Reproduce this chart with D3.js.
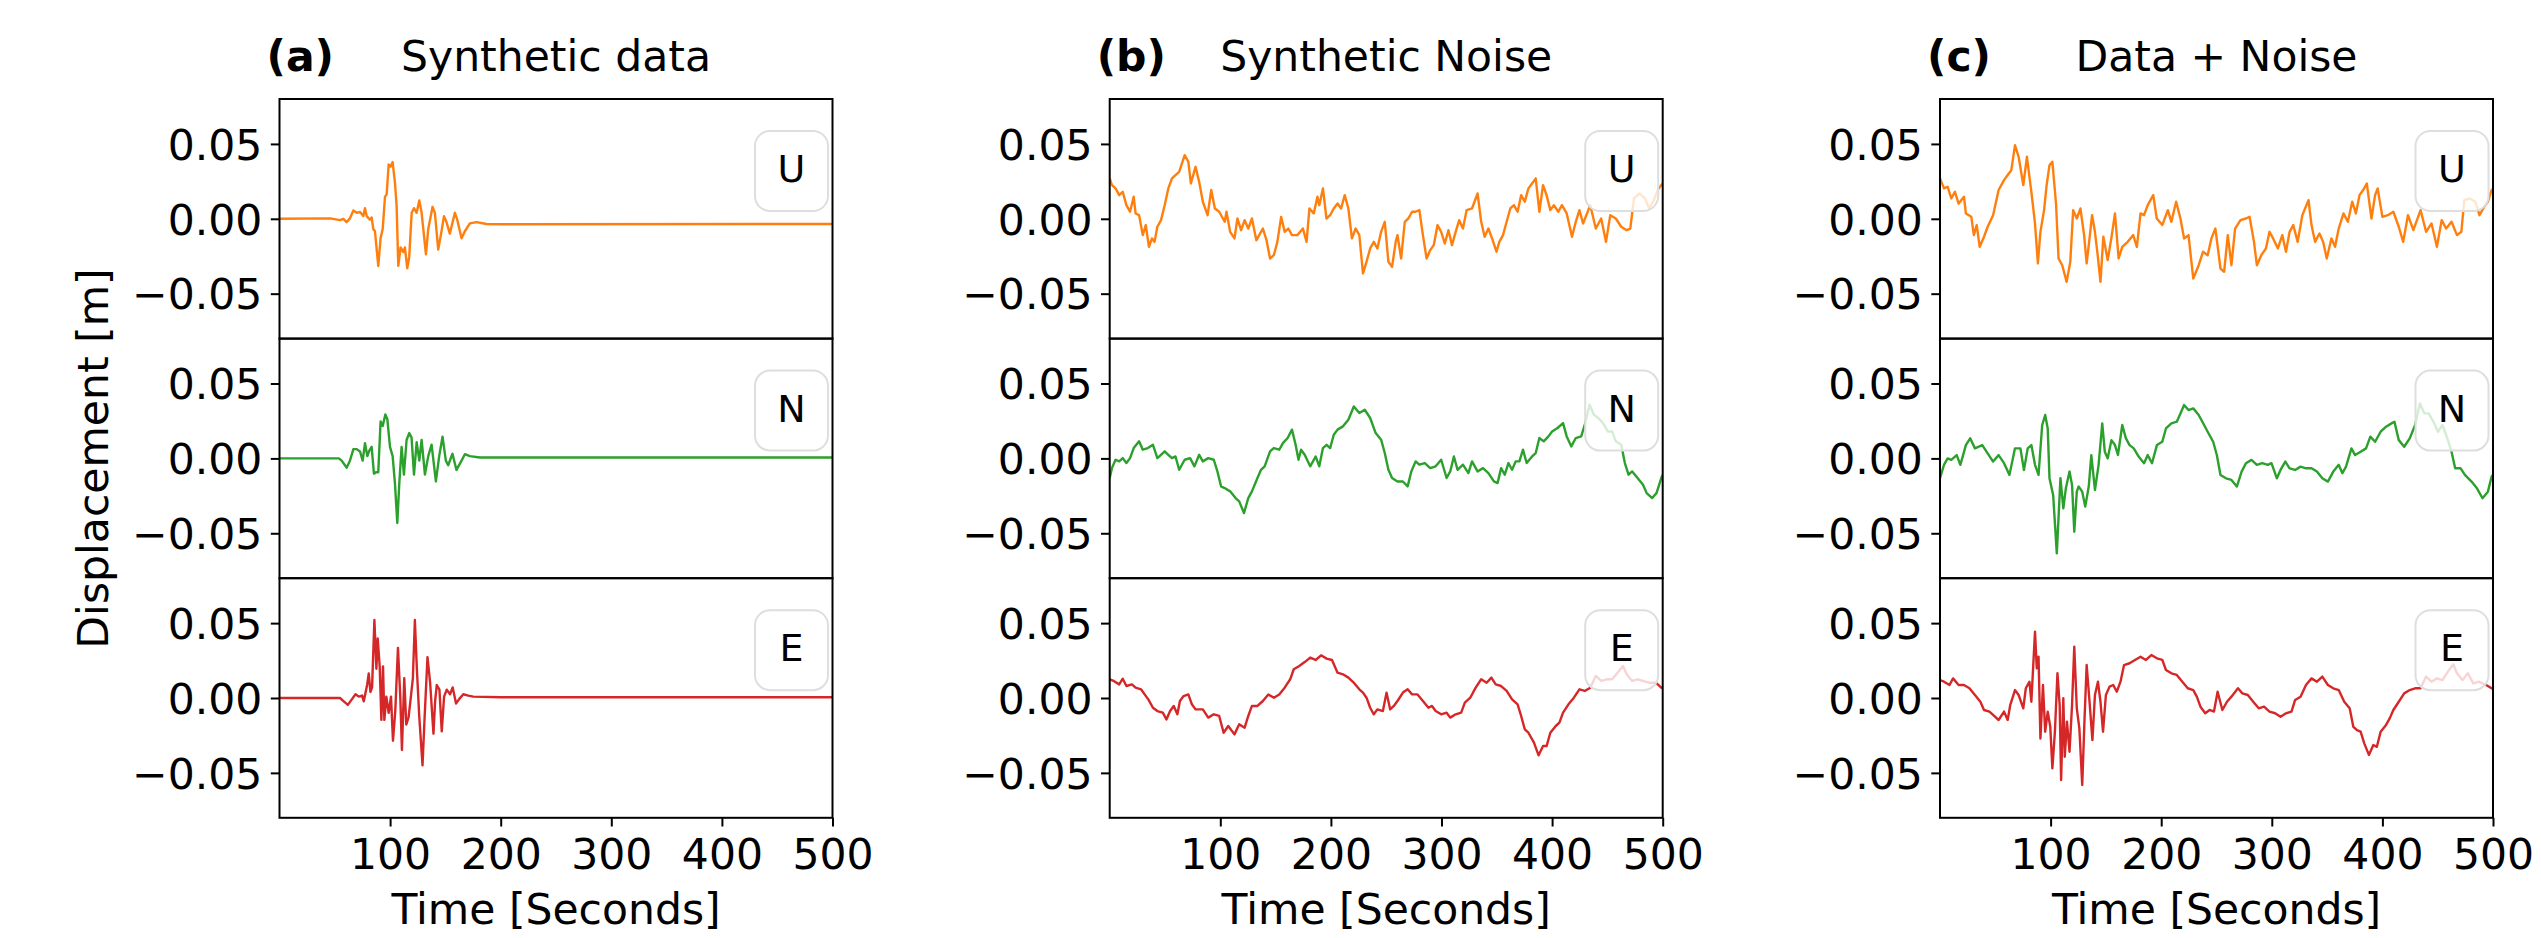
<!DOCTYPE html>
<html><head><meta charset="utf-8">
<script src="https://cdn.jsdelivr.net/npm/d3@7"></script>
<style>html,body{margin:0;padding:0;background:#fff;}svg{display:block;font-family:"DejaVu Sans",sans-serif;}</style>
</head><body><svg id="chart" width="2541" height="938"></svg>
<script>
// ---------- tick labels / categories ----------
const xTicks = [100, 200, 300, 400, 500];
const yTicks = [-0.05, 0, 0.05];
const panelLetters = ["(a)", "(b)", "(c)"];
const panelTitles = ["Synthetic data", "Synthetic Noise", "Data + Noise"];
const components = ["U", "N", "E"];

// ---------- (a) synthetic data : [time s, displacement m] ----------
const synthU = [[0,0],[45.7,0.0003],[54.7,-0.0009],[57.7,0],[60.7,-0.0022],[63.7,0.0003],[66.8,0.0055],[69.8,0.004],[72.8,0.0046],[75.8,0.0018],[77.3,0.0071],[78.8,0.0018],[81.8,-0.0006],[83.3,0.0009],[84.8,-0.0068],[86.3,-0.0083],[89.3,-0.0315],[91.4,-0.0129],[93.3,-0.0068],[95.4,0.0148],[96.9,0.0163],[98.7,0.0363],[100.5,0.0348],[102.3,0.0379],[104.4,0.024],[105.9,0.0086],[107.4,-0.0314],[109.5,-0.0191],[112,-0.0222],[113.4,-0.0191],[115.5,-0.033],[117.3,-0.0253],[119.5,0.004],[121.6,0.0071],[124,0.004],[126.4,0.0123],[128.5,0.004],[132.4,-0.0237],[134.5,-0.0068],[138.4,0.008],[140.5,0.004],[143.5,-0.0206],[146.5,-0.0083],[148.7,0.0018],[151,-0.0022],[154,-0.0099],[158.6,0.004],[160.7,-0.0006],[164.6,-0.013],[167.6,-0.0083],[172.1,-0.0031],[178.2,-0.0022],[187.2,-0.0035],[200,-0.0036],[500,-0.0035]];
const synthN = [[0,0],[53.7,0],[56.2,-0.0015],[59.2,-0.0046],[60.7,-0.0062],[63.7,-0.0015],[66.8,0.0062],[69.8,0.0062],[72.8,0.0046],[75.2,-0.0015],[77.3,0.0102],[79.4,0.0015],[81.2,0.0052],[83.3,0.0077],[85.4,-0.0102],[87.2,-0.0092],[89.3,-0.0092],[91.4,0.0246],[93.3,0.0216],[95.7,0.0293],[97.5,0.0262],[99.9,0.0077],[102.3,0.0015],[104.4,-0.0169],[106.5,-0.0431],[108.3,-0.0169],[110.4,0.0077],[112.5,-0.0108],[114.9,0.0123],[117.3,0.0169],[119.4,0.0139],[121.6,-0.0108],[124,0.0108],[126.4,-0.0015],[128.5,0.0123],[131.5,-0.0108],[134.5,0.0015],[137.5,0.0092],[141.4,-0.0154],[144.4,0.0015],[147.4,0.0145],[150.4,-0.0015],[152.5,-0.0046],[156.4,0.0031],[160,-0.0077],[164.6,-0.0015],[167.6,0.0028],[172.1,0.0015],[181.1,0.0006],[500,0.0006]];
const synthE = [[0,0],[54.7,0],[58.1,-0.0022],[61.8,-0.0046],[65.7,-0.0006],[68.7,0.0025],[71.7,0.0009],[74.7,0.0016],[76.2,-0.0022],[79.2,0.0087],[80.7,0.0164],[82.2,0.004],[83.7,0.0071],[85.8,0.0521],[87.6,0.0195],[88.8,0.0397],[90.6,0.0211],[92.1,-0.0146],[93.6,0.0211],[94.8,-0.0146],[96.6,0.0009],[98.7,-0.0099],[100.8,0.0009],[102.6,-0.0285],[104.7,-0.0084],[107.1,0.0335],[109.2,0.0009],[110.7,-0.0347],[112.8,0.0133],[114.6,-0.0177],[116.7,-0.013],[118.8,0.0009],[120.6,0.0133],[122.4,0.0521],[124.2,0.0195],[126.3,-0.0115],[129.3,-0.045],[131.1,-0.0146],[133.8,0.0273],[136.2,0.0102],[139.2,-0.0239],[140.7,-0.0022],[142.2,0.0087],[144.6,0.0056],[146.7,-0.0223],[148.8,0.0009],[151.2,0.0056],[154.2,0.0025],[156.6,0.0071],[159.6,-0.0037],[162.6,-0.0006],[166.2,0.0025],[170.7,0.0016],[175.2,0.0009],[200,0.0005],[500,0.0005]];

// ---------- (b) synthetic noise ----------
const noiseU = [[0,0.027],[2,0.0225],[5.3,0.0203],[8.6,0.0158],[11.8,0.018],[15.1,0.0091],[18.4,0.0047],[21.7,0.0147],[23.4,0.0036],[26.6,0.0024],[29.9,-0.0109],[32.6,-0.0042],[35.5,-0.0187],[38.2,-0.0131],[40.5,-0.0154],[43.1,-0.0053],[46.4,-0.0009],[49.7,0.0091],[53,0.0203],[56.3,0.027],[59.5,0.0292],[62.8,0.0314],[67.8,0.0425],[71.1,0.0381],[73.4,0.0236],[77.6,0.0347],[80.9,0.0247],[84.2,0.0114],[88.5,0.0024],[91.8,0.0192],[95.1,0.0069],[99,0.0047],[104,-0.002],[105.6,0.0047],[108.9,-0.0087],[112.8,-0.0131],[115.5,0.0002],[118.8,-0.0076],[122,-0.0009],[125.3,-0.0065],[128.6,0.0002],[132.6,-0.0143],[135.2,-0.0109],[138.5,-0.0065],[141.8,-0.0143],[145,-0.0265],[148.4,-0.0243],[151.6,-0.0154],[155,0.0013],[158.2,-0.0087],[161.5,-0.0065],[164.8,-0.0109],[169.7,-0.0109],[174.7,-0.0065],[178,-0.0154],[180.6,0.0069],[184.5,0.0036],[187.8,0.0147],[189.5,0.0091],[192.8,0.0203],[196,0.0002],[199.3,0.0024],[202.6,0.0069],[206,0.0102],[209.2,0.0069],[212.5,0.0158],[215.8,0.0069],[219,-0.0131],[222.4,-0.0065],[225.7,-0.0109],[229,-0.0365],[232.2,-0.0287],[235.5,-0.0198],[238.8,-0.0154],[242,-0.0198],[245.4,-0.0087],[248.7,-0.002],[252,-0.0287],[255.3,-0.0321],[258.6,-0.0154],[260.2,-0.0109],[263.5,-0.0265],[266.8,-0.002],[270,0.0002],[273.4,0.0047],[276.6,0.0047],[280,0.0058],[283.2,-0.0109],[286.5,-0.0265],[289.8,-0.0209],[293,-0.0176],[296.4,-0.0042],[299.7,-0.0087],[303,-0.0165],[306.3,-0.0076],[309.5,-0.0176],[312.8,-0.0087],[316,-0.0009],[319.4,-0.0065],[322.7,0.0058],[327.6,0.0069],[332.6,0.0169],[335.9,-0.002],[339,-0.012],[342.4,-0.0065],[345.7,-0.0131],[349.7,-0.022],[352.3,-0.0154],[355.6,-0.0109],[358.9,-0.002],[362.2,0.0069],[365.5,0.0091],[368.8,0.0047],[372,0.0158],[375.3,0.0114],[378.6,0.0203],[381.9,0.0236],[385.2,0.027],[388.5,0.0047],[391.8,0.0225],[395,0.0158],[398.4,0.0058],[401.6,0.0091],[405.6,0.0047],[408.9,0.0091],[413.2,0.0036],[418,-0.012],[421.4,-0.002],[424.7,0.0058],[428,-0.0031],[434.5,0.0091],[439.5,-0.0065],[444.4,0.0002],[448.7,-0.0154],[452.6,0.0024],[457.6,0.0002],[462.5,-0.0053],[467.4,-0.0076],[470.7,-0.0065],[474,0.0136],[479,0.0169],[484,0.0136],[487.8,0.0069],[492,0.0125],[495.4,0.0192],[498.7,0.0225],[500,0.0235]];
const noiseN = [[0,-0.0131],[2,-0.0065],[5.3,-0.0009],[8.6,-0.002],[11.8,0.0002],[15.1,-0.0031],[18.4,0.0002],[21.7,0.0069],[26.6,0.0114],[29.9,0.0058],[34.5,0.0069],[39.1,0.0091],[43.1,0.0002],[46.4,0.0024],[49.7,0.0047],[53,0.0024],[56.3,0.0002],[59.5,0.0013],[62.8,-0.0076],[67.8,-0.0009],[72.7,0.0002],[76.6,-0.0053],[80.9,0.0024],[84.2,-0.002],[89.1,0.0002],[94.1,-0.0009],[97.4,-0.0087],[100.7,-0.0187],[103.9,-0.0198],[108.9,-0.022],[113.8,-0.0265],[117.1,-0.0287],[121.4,-0.0365],[125.3,-0.0265],[128.6,-0.022],[133.6,-0.0131],[136.8,-0.0076],[140.1,-0.0053],[145,0.0047],[148.4,0.0069],[153.3,0.0058],[156.6,0.0102],[160.9,0.0136],[164.8,0.0192],[168.1,0.0091],[170.7,-0.0009],[173,0.0058],[176.3,0.0024],[181.3,-0.0053],[186.2,0.0013],[189.5,-0.0053],[192.8,0.0069],[196.1,0.0091],[199.3,0.0069],[202.6,0.0158],[206,0.0192],[210.9,0.0214],[215.8,0.0258],[220.7,0.0347],[225.7,0.0303],[230.6,0.0325],[235.5,0.027],[240.5,0.0169],[245.4,0.0125],[248.7,0.0036],[252,-0.0076],[255.3,-0.0131],[260.2,-0.0154],[265.1,-0.0154],[269.4,-0.0187],[272.7,-0.0087],[276.6,-0.002],[279.9,-0.0042],[284.9,-0.0031],[289.8,-0.0065],[294.7,-0.0053],[299.7,-0.0009],[304.6,-0.0131],[307.9,-0.0087],[311.2,0.0013],[314.5,-0.0076],[319.4,-0.0042],[324.3,-0.0098],[327.6,-0.002],[332.6,-0.0087],[337.5,-0.0065],[342.4,-0.0098],[347.4,-0.0154],[350.7,-0.0165],[353.9,-0.0065],[357.2,-0.0109],[360.5,-0.0031],[363.8,-0.0076],[367.1,-0.002],[370.4,-0.002],[373.7,0.0058],[377,-0.0031],[381.9,0.0013],[385.2,0.0036],[388.5,0.0136],[392.4,0.0114],[396.7,0.0147],[400,0.018],[404.9,0.0203],[409.9,0.0236],[413.2,0.0147],[417.4,0.008],[421.4,0.0136],[426.3,0.0147],[429.6,0.0225],[433.9,0.0358],[437.8,0.0292],[441.8,0.027],[446.1,0.0236],[450.3,0.018],[454.3,0.018],[457.6,0.0114],[462.5,0.0091],[465.8,-0.0031],[469.1,-0.0109],[472.4,-0.0087],[477.3,-0.0131],[482.2,-0.0176],[485.5,-0.0232],[490.5,-0.0265],[494.4,-0.0232],[498.7,-0.0131],[500,-0.011]];
const noiseE = [[0,0.0125],[3.6,0.0114],[8.6,0.0091],[11.8,0.0129],[15.1,0.008],[20.1,0.0091],[23.4,0.0069],[28.3,0.0058],[31.6,0.0024],[34.9,-0.0009],[39.1,-0.0065],[43.1,-0.0087],[48,-0.0098],[51.3,-0.0143],[54.6,-0.0087],[57.9,-0.0053],[61.2,-0.0109],[63.5,-0.002],[66.8,0.0013],[71.1,0.0024],[74.3,-0.0042],[77.6,-0.0076],[80.9,-0.0076],[84.2,-0.0076],[89.1,-0.0131],[94.1,-0.0109],[99,-0.012],[103,-0.0232],[107.2,-0.0187],[112.8,-0.0243],[117.1,-0.0176],[122,-0.0198],[125.3,-0.012],[128.6,-0.0053],[133.6,-0.0053],[138.5,-0.002],[143.4,0.0024],[148.4,0.0002],[153.3,0.0024],[158.2,0.0069],[163.2,0.0125],[166.4,0.0192],[171.4,0.0214],[176.3,0.024],[181.3,0.027],[186.2,0.0254],[191.1,0.0285],[196.1,0.0263],[201,0.0254],[206,0.0169],[210.9,0.0158],[215.8,0.0136],[220.7,0.0102],[225.7,0.0058],[229,0.0036],[232.2,0.0002],[235.5,-0.0065],[238.8,-0.0109],[242,-0.0076],[247,-0.0087],[250.3,0.0036],[253.6,-0.0076],[256.9,-0.0053],[260.2,-0.002],[265.1,0.0036],[269.4,0.0058],[273.4,0.0024],[278.3,0.0024],[283.2,-0.002],[288.2,-0.0065],[291.4,-0.0053],[294.7,-0.0087],[299.7,-0.0109],[304.6,-0.0098],[307.9,-0.0131],[312.8,-0.0109],[317.8,-0.0098],[321.1,-0.0031],[326,0.0002],[330.9,0.0069],[335.9,0.0125],[340.8,0.0102],[345.1,0.0136],[349,0.0091],[353.9,0.008],[358.9,0.0047],[363.8,-0.0009],[368.8,-0.0042],[372,-0.012],[375.3,-0.0209],[378.6,-0.0232],[383.6,-0.0298],[387.8,-0.0383],[391.8,-0.0321],[395,-0.0321],[398.4,-0.0232],[403.3,-0.0187],[406.6,-0.0165],[409.9,-0.0098],[414.8,-0.0042],[419.7,0.0002],[424.7,0.0058],[429.6,0.0047],[434.5,0.0069],[439.5,0.0147],[444.4,0.0114],[449.3,0.0125],[454.3,0.0125],[459.2,0.0169],[464.1,0.0214],[467.4,0.0158],[472.4,0.0114],[477.3,0.0125],[482.2,0.0114],[487.2,0.0102],[493.8,0.0102],[498.7,0.0069],[500,0.0065]];

// ---------- (c) data + noise ----------
const sumU = [[0,0.027],[3.6,0.0203],[6.9,0.0214],[10.2,0.0136],[13.5,0.018],[16.8,0.0102],[21.7,0.0147],[23.4,0.0036],[28.3,0.0013],[30.6,-0.0109],[33.2,-0.0042],[35.9,-0.0187],[39.8,-0.012],[43.1,-0.0053],[48,0.0024],[53,0.0192],[57.9,0.0258],[61.2,0.0292],[64.5,0.0325],[67.8,0.0492],[71.1,0.0414],[75.3,0.0225],[78.6,0.0414],[82.6,0.018],[85.9,-0.0031],[88.5,-0.0298],[90.8,-0.0087],[94.1,0.0058],[96.4,0.0225],[99,0.0358],[101.6,0.0381],[104.9,0.0102],[107.2,-0.0265],[110.5,-0.031],[114.5,-0.0421],[117.8,-0.0287],[120.4,0.0058],[123.7,0.0002],[127,0.0069],[130.3,-0.0109],[132.6,-0.0298],[135.2,-0.0131],[137.5,0.0024],[140.1,-0.0087],[142.4,-0.0232],[145.1,-0.0421],[147.7,-0.012],[151.6,-0.0276],[154.9,-0.0131],[158.2,0.0036],[161.5,-0.0265],[164.8,-0.0187],[169.7,-0.0154],[174.7,-0.0109],[178,-0.0187],[181.3,0.0036],[184.5,0.0024],[187.8,0.0091],[192.8,0.0158],[196,0.0002],[201,-0.0042],[206,0.0058],[209.2,-0.002],[213.5,0.0114],[217.4,0.0002],[220.7,-0.0131],[224.7,-0.0109],[229,-0.0399],[233.9,-0.031],[237.8,-0.022],[242,-0.0243],[245.4,-0.0131],[249,-0.0065],[253.6,-0.0332],[256.9,-0.0354],[260.2,-0.0109],[263.5,-0.031],[266.8,-0.0065],[271.7,-0.0009],[276.6,0.0002],[279.9,0.0013],[283.9,-0.0154],[286.5,-0.031],[290.5,-0.0243],[294.7,-0.0198],[297.9,-0.0087],[301.2,-0.0131],[305.5,-0.0198],[309.5,-0.0109],[312.8,-0.022],[316.1,-0.0087],[319.4,-0.0042],[323.4,-0.0154],[327.6,0.0024],[333.2,0.0125],[335.9,-0.0042],[339.1,-0.0154],[343.1,-0.0098],[346.4,-0.0154],[349.7,-0.0265],[353.9,-0.0131],[357.2,-0.0187],[360.5,-0.0065],[364.8,0.0036],[368.8,-0.002],[372.7,0.0114],[376,0.0036],[379.3,0.0158],[382.6,0.0192],[385.9,0.0236],[390.1,0.0002],[393.4,0.0158],[395.7,0.0203],[400,0.0013],[404.9,0.0024],[409.9,0.0047],[414.8,-0.0053],[418.8,-0.0154],[423.1,0.0024],[428,-0.0076],[434.5,0.0058],[439.5,-0.0087],[444.4,-0.0031],[449.3,-0.0187],[453.6,-0.0009],[457.6,-0.0065],[462.5,-0.002],[467.4,-0.0109],[471.4,-0.0087],[474,0.0125],[479,0.0136],[484,0.0114],[487.8,0.0024],[492,0.008],[495.4,0.0114],[498.7,0.0192],[500,0.02]];
const sumN = [[0,-0.0132],[3.6,-0.0043],[6.9,0],[10.2,-0.001],[15.1,0.0022],[18.4,-0.0043],[23.4,0.0089],[27.3,0.0134],[31.6,0.0067],[38.2,0.0089],[43.1,0.0033],[48,-0.0021],[53,0.0022],[57.9,-0.0032],[62.8,-0.011],[67.8,0.0067],[72.7,0.0067],[75.9,-0.0077],[79.3,0.0067],[82.6,0.0089],[85.9,-0.0043],[89.1,-0.011],[92.4,0.0223],[95.1,0.029],[97.4,0.02],[99,-0.0132],[102.3,-0.0244],[105.6,-0.0634],[108.9,-0.0132],[111.5,-0.0333],[113.8,-0.02],[117.1,-0.0088],[119.4,-0.0177],[121.4,-0.049],[123.7,-0.0222],[125.3,-0.0188],[128.6,-0.0222],[131.3,-0.0322],[134.5,-0.0188],[136.8,0.0022],[140.1,-0.0211],[143.4,-0.0043],[146.7,0.0234],[149,0.0045],[151.6,0],[155,0.0122],[158.2,0.0089],[160.9,0.0023],[164.8,0.0223],[168.1,0.0134],[171.4,0.0089],[175.2,0.0067],[179.6,0.0012],[184.5,-0.0032],[187.8,0.0022],[191.7,-0.0032],[196.1,0.0089],[201,0.0111],[204.3,0.02],[209.2,0.0234],[214.1,0.0245],[217.4,0.03],[220.7,0.0356],[224.7,0.0323],[229,0.0334],[233.9,0.029],[238.8,0.0223],[242,0.0178],[247,0.0111],[250.3,0.0023],[253.6,-0.0111],[258.6,-0.0133],[263.5,-0.0144],[268.4,-0.0188],[272.7,-0.0088],[276.6,-0.0032],[281.6,-0.001],[286.5,-0.0043],[291.4,-0.0032],[296.4,-0.0043],[299.7,-0.0032],[304.6,-0.0133],[307.9,-0.0077],[312.2,-0.0021],[316.1,-0.0066],[321.1,-0.0077],[326,-0.0055],[330.9,-0.0066],[335.9,-0.0066],[340.8,-0.0088],[345.7,-0.0133],[350.7,-0.0155],[355.6,-0.0088],[360.5,-0.0043],[363.8,-0.0099],[367.1,-0.0055],[372,0.0067],[375.3,0.0022],[380.3,0.0045],[385.2,0.0067],[389.1,0.0145],[393.4,0.0111],[398.4,0.0178],[403.3,0.0212],[408.2,0.0234],[410.9,0.0245],[414.8,0.0122],[419.7,0.0078],[424.7,0.0134],[429.6,0.0223],[433.9,0.0367],[437.8,0.0301],[441.8,0.0301],[446.1,0.0245],[450.3,0.0178],[454.3,0.0223],[458.2,0.0145],[462.5,0.0045],[465.8,-0.0066],[470.7,-0.0066],[474.6,-0.011],[480.6,-0.0155],[485.5,-0.02],[490.5,-0.0266],[495.4,-0.0222],[498.7,-0.0122],[500,-0.011]];
const sumE = [[0,0.012],[3.6,0.0109],[8.6,0.0087],[11.8,0.0131],[16.8,0.0087],[21.7,0.0087],[26.6,0.0065],[31.6,0.002],[36.5,-0.0025],[39.8,-0.008],[44.7,-0.0091],[49.7,-0.0125],[53,-0.0147],[57.9,-0.0091],[61.2,-0.0147],[63.5,-0.0047],[67.8,0.0053],[71.1,0.002],[75.3,-0.0069],[77.6,0.0065],[80.9,0.0109],[82.6,-0.0025],[85.9,0.0443],[87.5,0.0198],[89.1,0.0276],[90.8,-0.027],[93.1,0.0087],[95.1,-0.0225],[97.4,-0.0091],[99.7,-0.0192],[101.6,-0.047],[103.9,-0.0225],[106.2,0.0165],[108.2,-0.0047],[109.5,-0.0548],[111.5,-0.0002],[112.8,-0.0392],[114.8,-0.0158],[117.1,-0.0359],[119.4,-0.0047],[121.4,0.0343],[123.7,-0.0069],[126,-0.0203],[128.6,-0.0581],[130.6,-0.0158],[132.6,0.022],[135.2,-0.0025],[137.8,-0.0281],[140.1,0.002],[142.8,0.0109],[145.1,-0.0025],[147.4,-0.0225],[150,0.002],[153.3,0.0076],[156.6,0.0087],[159.9,0.0042],[163.2,0.0109],[166.4,0.022],[171.4,0.0232],[176.3,0.0254],[181.3,0.0276],[186.2,0.0254],[191.1,0.0287],[196.1,0.0265],[201,0.0254],[204.3,0.0187],[209.2,0.0165],[214.1,0.0154],[219.1,0.0109],[224,0.0065],[229,0.0053],[232.2,0.0009],[235.5,-0.0058],[239.8,-0.0102],[243.8,-0.008],[247.7,-0.0091],[251,0.0042],[255.3,-0.008],[259.5,-0.0025],[263.5,0.0009],[269.4,0.0065],[273.4,0.0031],[278.3,0.002],[283.2,-0.0025],[288.2,-0.0069],[293,-0.0058],[297.9,-0.0091],[303,-0.0102],[307.9,-0.0125],[312.8,-0.0102],[317.8,-0.0091],[321.1,-0.0013],[326,0.0009],[330.9,0.0087],[335.9,0.0131],[340.8,0.0109],[345.7,0.0143],[350.7,0.0087],[355.6,0.0065],[360.5,0.0053],[365.5,-0.0025],[370.4,-0.0069],[373.7,-0.0192],[377,-0.0214],[380.3,-0.0225],[383.6,-0.0303],[387.8,-0.038],[391.8,-0.0314],[395,-0.0326],[398.4,-0.0225],[403.3,-0.018],[406.6,-0.0136],[409.9,-0.008],[414.8,-0.0025],[419.7,0.0031],[424.7,0.0053],[429.6,0.0065],[434.5,0.0065],[439.5,0.0143],[444.4,0.0109],[449.3,0.0131],[454.3,0.012],[459.2,0.0176],[464.1,0.0225],[467.4,0.0165],[472.4,0.012],[477.3,0.0165],[482.2,0.0098],[487.2,0.0109],[493.8,0.0087],[498.7,0.0065],[500,0.0063]];

// ---------- layout & style ----------
const W = 2541, H = 938;
const colLeft = [279.5, 1109.7, 1940];
const axW = 553, rowTop0 = 99, rowH = 239.6;
const compColors = ["#ff7f0e", "#2ca02c", "#d62728"];
const FONT = 42.5;

const columns = [[synthU, synthN, synthE], [noiseU, noiseN, noiseE], [sumU, sumN, sumE]];
const svg = d3.select("#chart");
svg.append("rect").attr("width", W).attr("height", H).attr("fill", "#fff");
const defs = svg.append("defs");
const fmt = d => (d < 0 ? "\u2212" : "") + Math.abs(d).toFixed(2);

columns.forEach((col, ci) => {
  const L = colLeft[ci];
  const x = d3.scaleLinear().domain([0, 500]).range([L, L + axW]);

  col.forEach((series, ri) => {
    const top = rowTop0 + ri * rowH;
    const y = d3.scaleLinear().domain([-0.08, 0.08]).range([top + rowH, top]);
    const cid = `clip-${ci}-${ri}`;
    defs.append("clipPath").attr("id", cid).append("rect")
      .attr("x", L).attr("y", top).attr("width", axW).attr("height", rowH);

    const line = d3.line().x(d => x(d[0])).y(d => y(d[1]));
    svg.append("path").datum(series)
      .attr("clip-path", `url(#${cid})`)
      .attr("d", line).attr("fill", "none")
      .attr("stroke", compColors[ri]).attr("stroke-width", 2.4)
      .attr("stroke-linejoin", "round");

    // legend box
    const lg = svg.append("g");
    lg.append("rect").attr("x", L + 475.5).attr("y", top + 32)
      .attr("width", 73).attr("height", 80).attr("rx", 15)
      .attr("fill", "#fff").attr("fill-opacity", 0.8)
      .attr("stroke", "#dedede").attr("stroke-width", 2);
    lg.append("text").attr("x", L + 512).attr("y", top + 83)
      .attr("text-anchor", "middle").attr("font-size", 38).attr("fill", "#000")
      .text(components[ri]);

    // y axis
    const ya = svg.append("g").attr("transform", `translate(${L},0)`)
      .call(d3.axisLeft(y).tickValues(yTicks).tickSize(8.7).tickPadding(8.5).tickFormat(fmt));
    ya.select(".domain").remove();
    ya.selectAll(".tick line").attr("stroke", "#000").attr("stroke-width", 2);
    ya.selectAll(".tick text").attr("font-size", FONT).attr("font-family", "DejaVu Sans")
      .attr("fill", "#000").attr("dy", "0.36em");

    // frame
    svg.append("rect").attr("x", L).attr("y", top).attr("width", axW).attr("height", rowH)
      .attr("fill", "none").attr("stroke", "#000").attr("stroke-width", 2);
  });

  // x axis at bottom
  const bottom = rowTop0 + 3 * rowH;
  const xa = svg.append("g").attr("transform", `translate(0,${bottom})`)
    .call(d3.axisBottom(x).tickValues(xTicks).tickSize(8.7).tickPadding(12.5).tickFormat(d3.format("d")));
  xa.select(".domain").remove();
  xa.selectAll(".tick line").attr("stroke", "#000").attr("stroke-width", 2);
  xa.selectAll(".tick text").attr("font-size", FONT).attr("font-family", "DejaVu Sans").attr("fill", "#000");

  svg.append("text").attr("x", L + axW / 2).attr("y", 924)
    .attr("text-anchor", "middle").attr("font-size", FONT).text("Time [Seconds]");

  // titles
  svg.append("text").attr("x", L - 13).attr("y", 71)
    .attr("font-size", FONT).attr("font-weight", "bold").text(panelLetters[ci]);
  svg.append("text").attr("x", L + axW / 2).attr("y", 71)
    .attr("text-anchor", "middle").attr("font-size", FONT).text(panelTitles[ci]);
});

svg.append("text").attr("transform", "translate(108,458.5) rotate(-90)")
  .attr("text-anchor", "middle").attr("font-size", FONT).text("Displacement [m]");
</script>
</body></html>
